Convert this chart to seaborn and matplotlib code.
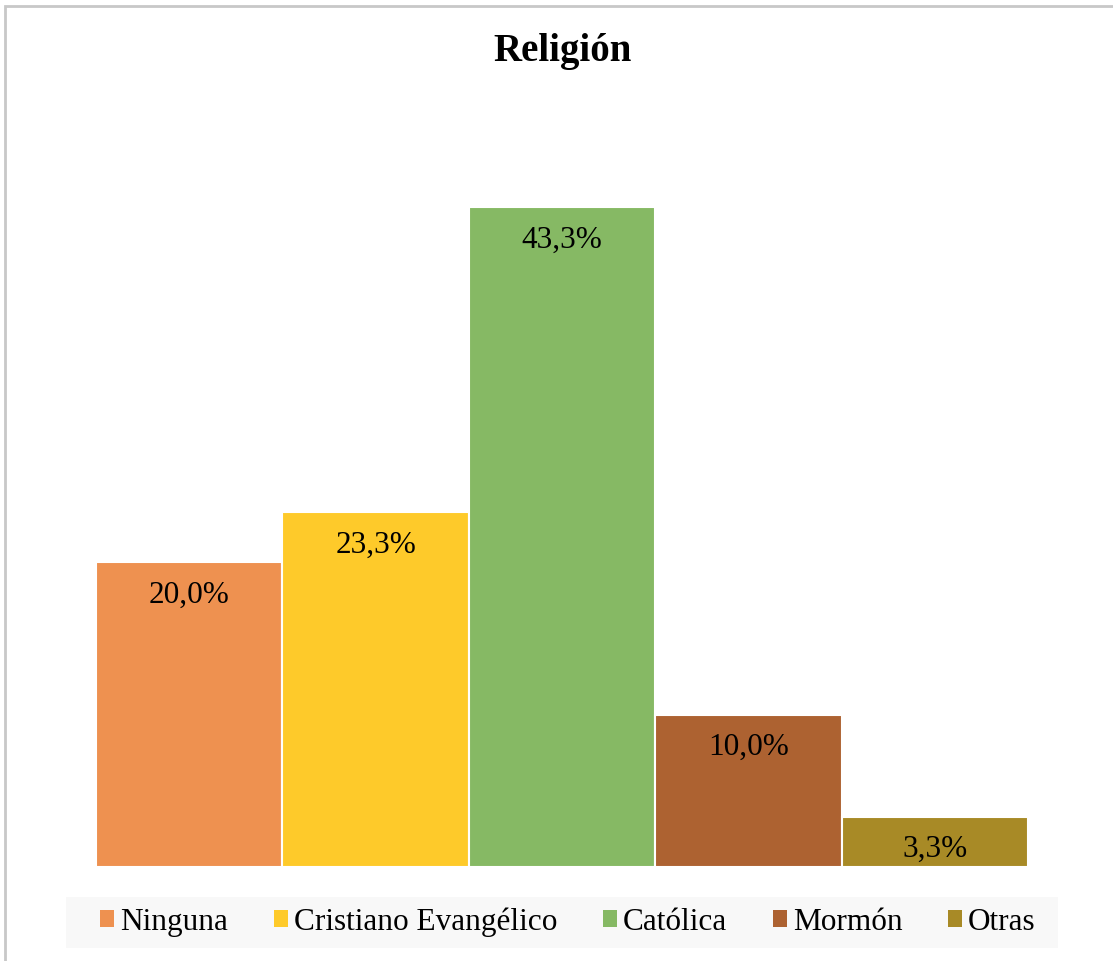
import matplotlib
matplotlib.use("Agg")
import matplotlib.pyplot as plt
import seaborn as sns
import pandas as pd
from matplotlib.patches import Rectangle, Patch

categories = ["Ninguna", "Cristiano Evangélico", "Católica", "Mormón", "Otras"]
values = [20.0, 23.3, 43.3, 10.0, 3.3]
labels = ["20,0%", "23,3%", "43,3%", "10,0%", "3,3%"]
colors = ["#EE9150", "#FECA2A", "#86B964", "#AD6231", "#A88A26"]

sns.set_theme(style="white")
plt.rcParams['font.family'] = ['Liberation Serif', 'DejaVu Serif']
plt.rcParams['text.color'] = 'black'

W, H = 1113, 961
fig = plt.figure(figsize=(W / 100, H / 100), dpi=100)
ax = fig.add_axes([96 / W, 94 / H, (1028 - 96) / W, (867 - 105) / H])

df = pd.DataFrame({"cat": categories, "val": values})
sns.barplot(data=df, x="cat", y="val", hue="cat", palette=colors, width=1.0,
            dodge=False, legend=False, ax=ax, edgecolor="white", linewidth=1.5,
            saturation=1)
ax.set_xlim(-0.5, 4.5)
ax.set_ylim(0, 50)
ax.axis("off")

for i, (v, lab) in enumerate(zip(values, labels)):
    ax.annotate(lab, (i, v), xytext=(0, -33), textcoords="offset pixels",
                ha="center", va="center", fontsize=22.5, color="black")

fig.text(563 / W, 1 - 51 / H, "Religión", ha="center", va="center",
         fontsize=28, fontweight="bold", color="black")

# legend background band
fig.patches.append(Rectangle((66 / W, 1 - 948 / H), (1058 - 66) / W, (948 - 897) / H,
                             transform=fig.transFigure, facecolor="#F8F8F8",
                             edgecolor="none", zorder=0))

handles = [Patch(facecolor=c, edgecolor="none") for c in colors]
leg = fig.legend(handles, categories, loc="center", bbox_to_anchor=(568 / W, 1 - 922 / H),
                 ncol=5, fontsize=22.5, frameon=False,
                 handlelength=0.45, handleheight=0.45, handletextpad=0.2,
                 columnspacing=1.45, labelcolor="black")

fig.patches.append(Rectangle((4.5 / W, -0.05), 1.2, 1 - 6 / H + 0.05, transform=fig.transFigure,
                             fill=False, edgecolor="#C8C8C8", linewidth=2))

fig.savefig("out.png", dpi=100)
